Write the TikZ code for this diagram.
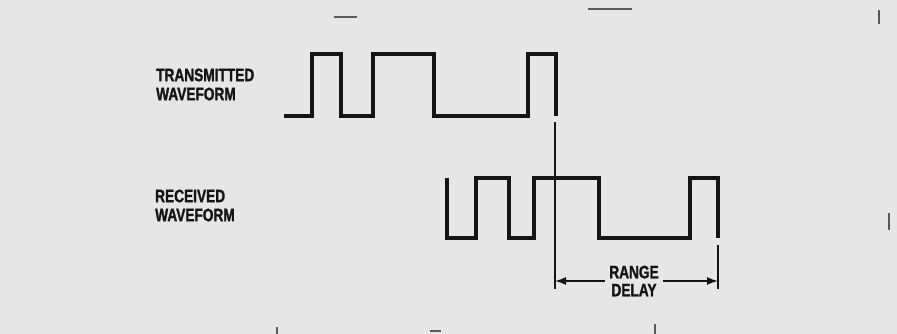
\documentclass[tikz,border=0pt]{standalone}
\usepackage{fontspec}
\newfontfamily\condfont[FakeStretch=0.76,FakeBold=1.4]{Liberation Sans Bold}
\usetikzlibrary{arrows.meta}
\definecolor{paper}{RGB}{229,231,229}
\definecolor{ink}{RGB}{20,20,20}
\definecolor{speck}{RGB}{90,90,90}
\tikzset{
  wave/.style={draw=ink,line width=3.4pt,line join=miter},
  thin/.style={draw=ink,line width=1.4pt},
  lbl/.style={inner sep=0pt,align=left,anchor=west,text=ink,font=\condfont\fontsize{18}{19}\selectfont},
  dly/.style={inner sep=4pt,align=center,text=ink,font=\condfont\fontsize{18}{18}\selectfont},
  dimarrow/.style={thin,-{Latex[length=11pt,width=8pt]}},
  speckline/.style={draw=speck,line width=1.4pt}
}
\begin{document}
\begin{tikzpicture}[x=1pt,y=-1pt]
\fill[paper] (0,0) rectangle (897,334);
\useasboundingbox (0,0) rectangle (897,334);
% labels
\node[lbl] (tx) at (156,84.5) {TRANSMITTED\\WAVEFORM};
\node[lbl] (rx) at (155,205.5) {RECEIVED\\WAVEFORM};
% transmitted waveform
\coordinate (t0) at (284,116);
\draw[wave] (t0) -| (312,54) -| (341,116) -| (373,54) -| (434,116) -| (528,54) -| (556,116);
% received waveform
\coordinate (r0) at (447,178);
\draw[wave] (r0) |- (476,238) |- (509,178) |- (534,238) |- (599,178) |- (690,238) |- (718,178) -- (718,238);
% range delay
\coordinate (L) at (555,281);
\coordinate (R) at (718,281);
\coordinate (Ltop) at (555,122);
\coordinate (Lbot) at (555,289);
\coordinate (Rtop) at (718,245);
\coordinate (Rbot) at (718,289);
\draw[thin] (Ltop) -- (Lbot);
\draw[thin] (Rtop) -- (Rbot);
\node[dly] (rd) at (634,281) {RANGE\\DELAY};
\draw[dimarrow] (rd.west) -- (L);
\draw[dimarrow] (rd.east) -- (R);
% scan specks
\draw[speckline] (334,17) -- (357,17);
\draw[speckline] (588,9) -- (632,9);
\draw[speckline] (879,10) -- (879,24);
\draw[speckline] (889,213) -- (889,230);
\draw[speckline] (277,327) -- (277,334);
\draw[speckline] (430,331) -- (441,331);
\draw[speckline] (655,324) -- (655,334);
\end{tikzpicture}
\end{document}
